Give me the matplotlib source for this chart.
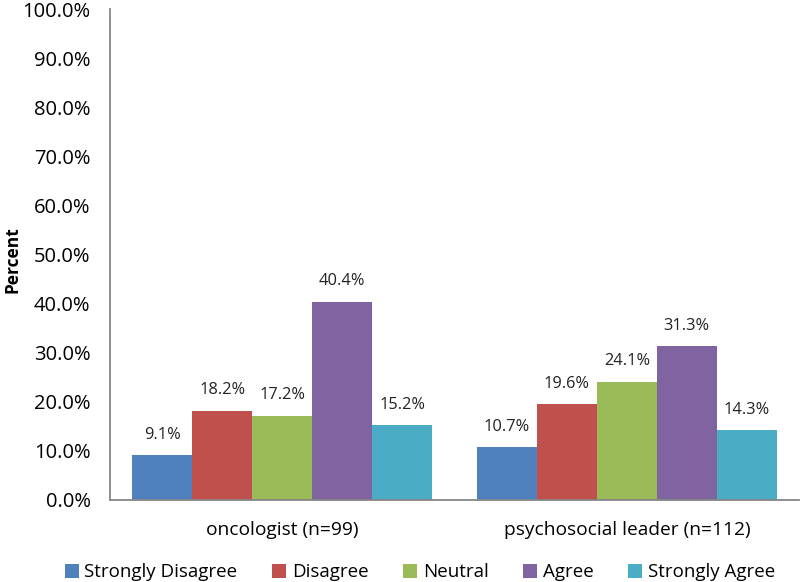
import matplotlib.pyplot as plt
import numpy as np

plt.rcParams['font.family'] = ['Open Sans', 'DejaVu Sans']

groups = ['oncologist (n=99)', 'psychosocial leader (n=112)']
responses = ['Strongly Disagree', 'Disagree', 'Neutral', 'Agree', 'Strongly Agree']
values = [
    [9.1, 10.7],
    [18.2, 19.6],
    [17.2, 24.1],
    [40.4, 31.3],
    [15.2, 14.3],
]
colors = ['#4F81BD', '#C0504D', '#9BBB59', '#8064A2', '#4BACC6']

fig = plt.figure(figsize=(8, 5.82), dpi=100)
ax = fig.add_axes([0.1375, 0.141, 0.8615, 0.843])

x = np.arange(len(groups))
width = 0.174
for i, (name, vals) in enumerate(zip(responses, values)):
    pos = x + (i - 2) * width
    bars = ax.bar(pos, vals, width, color=colors[i], label=name)
    for b, v in zip(bars, vals):
        ax.text(b.get_x() + b.get_width() / 2, v + 2.5, f'{v:.1f}%',
                ha='center', va='bottom', fontsize=11.8, color='#222222')

ax.set_xlim(-0.5, 1.5)
ax.set_ylim(0, 100)
ax.set_yticks(np.arange(0, 101, 10))
ax.set_yticklabels([f'{t:.1f}%' for t in np.arange(0, 101, 10)], fontsize=14.5)
ax.set_xticks(x)
ax.set_xticklabels(groups, fontsize=13.8)
ax.tick_params(axis='y', length=0, pad=14)
ax.tick_params(axis='x', length=0, pad=15)
fig.text(0.016, 1 - 260 / 582, 'Percent', rotation=90, ha='center', va='center',
         fontsize=12.5, fontweight='bold')

for s in ['top', 'right']:
    ax.spines[s].set_visible(False)
for s in ['left', 'bottom']:
    ax.spines[s].set_color('#868686')
    ax.spines[s].set_linewidth(1.3)

fig.legend(loc='lower center', bbox_to_anchor=(0.525, -0.028), ncol=5, frameon=False,
           fontsize=13.5, handlelength=0.75, handleheight=0.75, handletextpad=0.3,
           columnspacing=1.85)

fig.savefig('out.png', dpi=100)
